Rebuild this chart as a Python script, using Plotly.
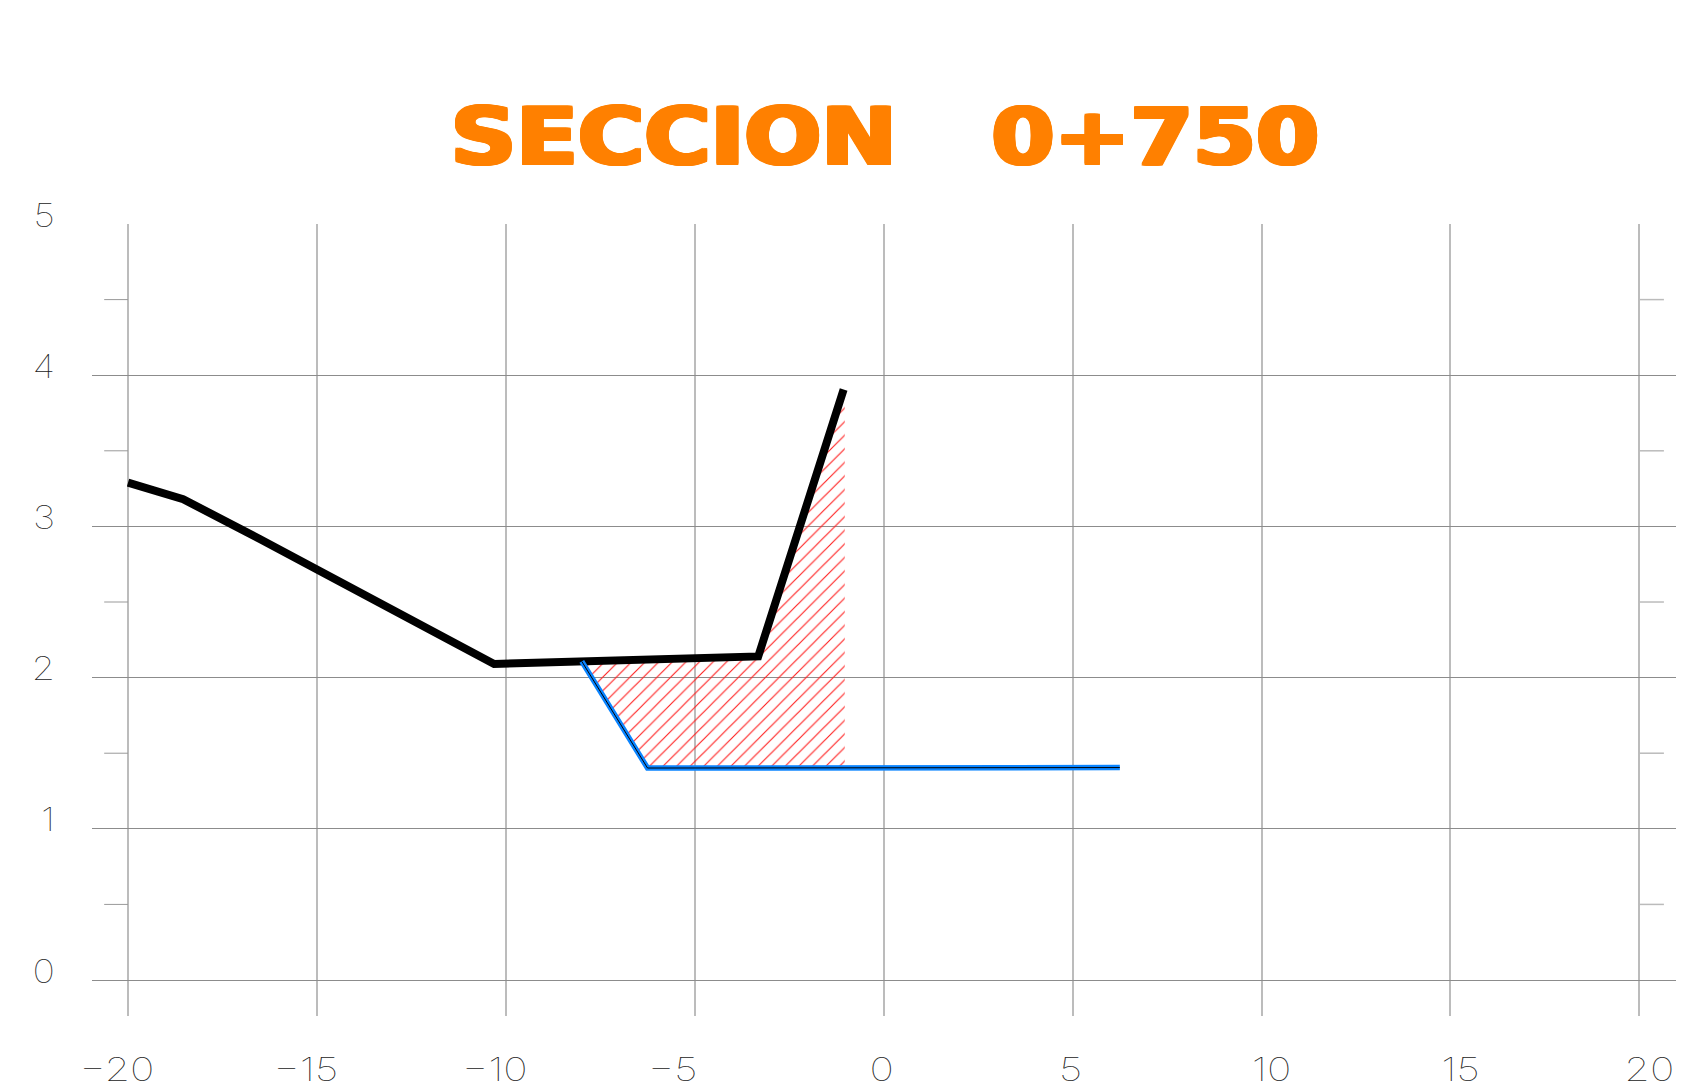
import json
import plotly.graph_objects as go

title_text = "SECCION\u00a0\u00a0\u00a00+750"
x_ticks = [-20, -15, -10, -5, 0, 5, 10, 15, 20]
x_tick_labels = ["\u221220", "\u221215", "\u221210", "\u22125", "0", "5", "10", "15", "20"]
x_label_shift = [-11, -11, -11, -22, -2, -2, 10, 10, 10]
y_ticks = [0, 1, 2, 3, 4, 5]
y_minor = [0.5, 1.5, 2.5, 3.5, 4.5]

terrain_x = [-20.0, -19.6, -18.54, -16.5, -15.0, -12.2, -10.31, -3.32, -1.06]
terrain_y = [3.29, 3.26, 3.18, 2.915, 2.715, 2.34, 2.09, 2.14, 3.905]
design_x = [-7.99, -6.25, 6.25]
design_y = [2.107, 1.402, 1.405]
cut_x = [-7.99, -3.32, -1.06, -1.03, -1.03, -6.25, -7.99]
cut_y = [2.107, 2.14, 3.905, 3.905, 1.405, 1.405, 2.107]

LABEL_FONT = dict(family="Inter", size=33, color="#222222", weight=100)
ORANGE = "#ff8000"
fig = go.Figure()

for y in y_minor:
    fig.add_trace(go.Scatter(x=[-20.63, -20], y=[y, y], mode="lines", line=dict(color="#999999", width=1), showlegend=False, hoverinfo="skip"))
    fig.add_trace(go.Scatter(x=[20, 20.65], y=[y, y], mode="lines", line=dict(color="#bbbbbb", width=1.5), showlegend=False, hoverinfo="skip"))

fig.add_trace(go.Scatter(x=cut_x, y=cut_y, mode="lines", line=dict(width=0), fill="toself",
                         fillcolor="rgba(0,0,0,0)",
                         fillpattern=dict(shape="/", size=9.6, solidity=0.12, fgcolor="#ff2020", fgopacity=1,
                                          bgcolor="rgba(0,0,0,0)", fillmode="overlay"),
                         showlegend=False, hoverinfo="skip"))
fig.add_trace(go.Scatter(x=terrain_x, y=terrain_y, mode="lines", line=dict(color="#000000", width=8), showlegend=False))
fig.add_trace(go.Scatter(x=design_x, y=design_y, mode="lines", line=dict(color="#0a84ff", width=5.5), showlegend=False))
fig.add_trace(go.Scatter(x=design_x, y=design_y, mode="lines", line=dict(color="#000000", width=1), showlegend=False, hoverinfo="skip"))

shadow = ", ".join(f"{dx}px {dy}px #ff8000" for dx, dy in
                   [(2, 0), (-2, 0), (0, 1), (0, -1), (1, 1), (-1, 1), (1, -1), (-1, -1), (2, 1), (-2, 1), (2, -1), (-2, -1)])
fig.update_layout(
    width=1682, height=1086, autosize=False, showlegend=False,
    paper_bgcolor="#ffffff", plot_bgcolor="#ffffff",
    margin=dict(l=92, r=6, t=224, b=70),
    title=dict(text=title_text, x=885 / 1682, xanchor="center", y=1 - 137 / 1086, yanchor="middle",
               font=dict(family="DejaVu Sans", size=78, color=ORANGE, weight=700, shadow=shadow)),
    xaxis=dict(range=[-20.953, 20.97], tickvals=x_ticks, ticktext=x_tick_labels, showticklabels=True, showgrid=True,
               gridcolor="#bcbcbc", gridwidth=1.6, zeroline=False, showline=False, ticks="", automargin=False,
               tickfont=LABEL_FONT, tickangle=0, ticklabelstandoff=10),
    yaxis=dict(range=[-0.238, 5.0], tickvals=y_ticks, showgrid=True, gridcolor="#8c8c8c", gridwidth=1, automargin=False,
               zeroline=False, showline=False, ticks="", tickfont=LABEL_FONT, ticklabelstandoff=36, ticklabelshift=-9),
)
shifts = json.dumps(dict(zip(x_tick_labels, x_label_shift)))
stretch = """
document.body.style.margin='0';document.body.style.overflow='hidden';
function widen(sel, k){document.querySelectorAll(sel).forEach(function(t){
  t.setAttribute('textLength', t.getComputedTextLength()*k);
  t.setAttribute('lengthAdjust','spacingAndGlyphs');});}
widen('.gtitle', 1.16);
widen('.xtick text', 1.25);
widen('.ytick text', 1.15);
var shifts = %s;
document.querySelectorAll('.xtick text').forEach(function(t){
  t.setAttribute('dx', shifts[t.textContent] || 0);
  t.setAttribute('dy', 21);});
""" % shifts
fig.write_html("out.html", post_script=stretch, config=dict(displayModeBar=False))
